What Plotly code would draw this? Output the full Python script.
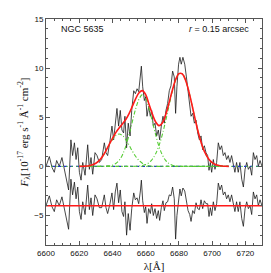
import plotly.graph_objects as go

# Observed spectrum (wavelength in Angstrom, flux in 1e-17 erg/s/A/cm2)
wave = [6600.0, 6602.0, 6603.6, 6605.0, 6606.4, 6608.0, 6609.6, 6611.0, 6612.6, 6613.6,
        6615.0, 6616.0, 6617.1, 6618.1, 6619.1, 6620.1, 6621.1, 6622.1, 6623.5, 6625.1,
        6626.1, 6627.1, 6628.1, 6629.5, 6630.7, 6632.1, 6633.5, 6635.1, 6636.1, 6637.1,
        6638.5, 6639.7, 6640.7, 6641.7, 6642.7, 6643.7, 6644.7, 6645.7, 6646.7, 6647.5,
        6648.5, 6649.5, 6650.6, 6651.6, 6652.8, 6653.8, 6654.8, 6655.8, 6656.8, 6657.4,
        6658.2, 6659.2, 6660.0, 6660.8, 6661.8, 6662.8, 6663.6, 6664.6, 6665.6, 6666.6,
        6667.6, 6668.4, 6669.4, 6670.4, 6671.2, 6672.2, 6673.2, 6674.2, 6675.2, 6676.2,
        6677.2, 6678.0, 6678.8, 6679.8, 6680.6, 6681.4, 6682.4, 6683.5, 6684.5, 6685.5,
        6686.5, 6687.3, 6688.3, 6689.3, 6690.3, 6691.3, 6692.3, 6693.3, 6694.3, 6695.3,
        6696.3, 6697.3, 6698.1, 6698.9, 6699.7, 6700.7, 6701.7, 6702.7, 6703.7, 6704.7,
        6705.7, 6706.7, 6707.7, 6708.7, 6709.7, 6710.7, 6711.7, 6712.7, 6713.7, 6714.7,
        6715.7, 6716.7, 6717.8, 6718.8, 6719.8, 6720.8, 6721.8, 6722.8, 6723.8, 6724.8,
        6725.8, 6726.8, 6727.8, 6728.8, 6730.0]
flux = [0.0, 1.0, -0.1, -0.6, 0.6, 0.0, 0.9, -0.3, -1.6, -2.4,
        2.7, 1.1, 2.4, 0.7, 1.9, -0.6, -1.4, 0.4, -0.9, 2.2,
        -0.3, 0.9, -0.8, 1.4, 1.1, 0.4, 0.7, 2.4, 1.4, 1.1,
        2.6, 4.1, 2.7, 4.7, 5.9, 4.1, 5.7, 3.7, 3.4, 5.1,
        1.9, 4.4, 3.1, 5.7, 7.7, 7.4, 7.9, 7.6, 9.1, 10.2,
        8.1, 6.7, 7.1, 5.1, 6.1, 5.1, 5.7, 4.1, 4.4, 3.1,
        3.7, 2.7, 4.1, 5.1, 4.4, 5.7, 6.4, 7.7, 8.2, 9.7,
        9.1, 5.4, 8.1, 10.4, 11.1, 10.4, 11.1, 10.4, 9.1, 7.4,
        6.4, 5.1, 5.4, 4.4, 4.7, 3.4, 2.7, 3.1, 1.7, 2.1,
        1.4, 1.1, -0.4, 0.4, -0.6, 0.7, -0.3, 0.4, 2.4, 1.7,
        2.1, 1.1, 1.4, 0.7, 1.1, 0.4, 1.1, 0.0, -0.6, 0.4,
        -0.6, 0.4, -1.3, -2.1, -0.3, 0.4, -0.3, 0.0, -0.9, 1.4,
        0.7, 1.1, 0.0, 0.6, 0.0]
# Residuals (shown offset by -4)
residual = [-4.0, -3.0, -4.1, -4.6, -3.4, -4.0, -3.1, -4.3, -5.6, -6.4,
            -1.3, -2.9, -1.6, -3.3, -2.1, -4.6, -5.4, -3.6, -4.9, -1.9,
            -4.4, -3.2, -5.0, -2.9, -3.3, -4.2, -4.2, -2.9, -4.2, -4.8,
            -3.8, -2.7, -4.4, -2.6, -1.7, -3.7, -2.4, -4.6, -5.1, -3.6,
            -7.0, -4.8, -6.5, -4.3, -2.7, -3.4, -3.2, -3.8, -2.5, -1.4,
            -3.5, -4.7, -4.1, -5.8, -4.3, -4.8, -3.8, -5.0, -4.3, -5.3,
            -4.5, -5.5, -4.2, -3.5, -4.5, -3.7, -3.6, -2.9, -3.0, -2.1,
            -3.3, -7.4, -5.0, -3.0, -2.3, -3.0, -2.2, -2.5, -3.4, -4.5,
            -4.9, -5.6, -4.5, -4.8, -3.7, -4.3, -4.4, -3.4, -4.3, -3.5,
            -3.8, -3.8, -5.1, -4.2, -5.0, -3.6, -4.5, -3.8, -1.7, -2.4,
            -1.9, -2.9, -2.6, -3.3, -2.9, -3.6, -2.9, -4.0, -4.6, -3.6,
            -4.6, -3.6, -5.3, -6.1, -4.3, -3.6, -4.3, -4.0, -4.9, -2.6,
            -3.3, -2.9, -4.0, -3.4, -4.0]
residual_level = -4.0

# Fitted Gaussian components on a model wavelength grid
model_wave = [6620, 6622, 6624, 6626, 6628, 6630, 6632, 6634, 6636, 6638,
              6640, 6642, 6644, 6646, 6648, 6650, 6652, 6654, 6656, 6658,
              6660, 6662, 6664, 6666, 6668, 6670, 6672, 6674, 6676, 6678,
              6680, 6682, 6684, 6686, 6688, 6690, 6692, 6694, 6696, 6698,
              6700, 6702, 6704, 6706, 6708, 6710]
comp_nii_a = [0.00, 0.01, 0.03, 0.07, 0.16, 0.32, 0.60, 1.01, 1.55, 2.16,
              2.73, 3.15, 3.30, 3.15, 2.73, 2.16, 1.55, 1.01, 0.60, 0.32,
              0.16, 0.07, 0.03, 0.01, 0, 0, 0, 0, 0, 0,
              0, 0, 0, 0, 0, 0, 0, 0, 0, 0,
              0, 0, 0, 0, 0, 0]
comp_halpha = [0, 0, 0, 0, 0, 0, 0, 0, 0.02, 0.05,
               0.12, 0.29, 0.61, 1.17, 2.04, 3.22, 4.58, 5.88, 6.85, 7.30,
               6.95, 5.88, 4.58, 3.22, 2.04, 1.17, 0.61, 0.29, 0.12, 0.05,
               0.02, 0, 0, 0, 0, 0, 0, 0, 0, 0,
               0, 0, 0, 0, 0, 0]
comp_nii_b = [0, 0, 0, 0, 0, 0, 0, 0, 0, 0,
              0, 0, 0, 0, 0, 0, 0, 0.01, 0.04, 0.09,
              0.19, 0.38, 0.73, 1.29, 2.11, 3.24, 4.62, 6.15, 7.61, 8.77,
              9.42, 9.42, 8.77, 7.61, 6.15, 4.62, 3.24, 2.11, 1.29, 0.73,
              0.38, 0.19, 0.09, 0.04, 0.01, 0.00]
continuum_wave = [6600, 6730]
continuum = [0.0, 0.0]

model_total = [a + b + c for a, b, c in zip(comp_nii_a, comp_halpha, comp_nii_b)]

x_range = [6600, 6730]
y_range = [-8, 15]

fig = go.Figure()
ln = dict(color="#1a1a1a", width=0.8)
fig.add_trace(go.Scatter(x=wave, y=flux, mode="lines", line=ln))
fig.add_trace(go.Scatter(x=wave, y=residual, mode="lines", line=ln))
fig.add_trace(go.Scatter(x=continuum_wave, y=continuum, mode="lines",
                         line=dict(color="#2233cc", width=1.3, dash="dot")))
fig.add_trace(go.Scatter(x=continuum_wave, y=continuum, mode="lines",
                         line=dict(color="#44bb33", width=0.8, dash="2px,3px")))
for comp in (comp_nii_a, comp_halpha, comp_nii_b):
    fig.add_trace(go.Scatter(x=model_wave, y=comp, mode="lines", line_shape="spline",
                             line=dict(color="#55cc33", width=1.1, dash="4px,2px,1px,2px")))
fig.add_trace(go.Scatter(x=model_wave, y=model_total, mode="lines", line_shape="spline",
                         line=dict(color="#ff1a1a", width=1.6)))
fig.add_trace(go.Scatter(x=x_range, y=[residual_level, residual_level], mode="lines",
                         line=dict(color="#ff1a1a", width=1.4)))

tickfont = dict(family="Liberation Sans", size=8, color="#111111")
axis_common = dict(showline=True, linecolor="#555555", linewidth=1, mirror="ticks",
                   ticks="inside", ticklen=4, tickcolor="#555555", showgrid=False,
                   zeroline=False, tickfont=tickfont)
fig.update_xaxes(range=x_range, dtick=20, tick0=6600,
                 minor=dict(dtick=5, ticks="inside", ticklen=2, tickcolor="#555555"),
                 title=dict(text="λ[Å]", font=dict(family="Liberation Serif", size=11, color="#111111"),
                            standoff=5),
                 **axis_common)
fig.update_yaxes(range=y_range, dtick=5, tick0=0,
                 minor=dict(dtick=1, ticks="inside", ticklen=2, tickcolor="#555555"),
                 title=dict(text="<i>F</i><sub>λ</sub>[10<sup>-17</sup> erg s<sup>-1</sup> Å<sup>-1</sup> cm<sup>-2</sup>]",
                            font=dict(family="Liberation Serif", size=11, color="#111111"), standoff=3),
                 **axis_common)

fig.add_annotation(text="NGC 5635", xref="paper", yref="paper", x=0.06, y=0.955,
                   xanchor="left", yanchor="middle", showarrow=False,
                   font=dict(family="Liberation Sans", size=9, color="#111111"))
fig.add_annotation(text="<i>r</i> = 0.15 arcsec", xref="paper", yref="paper", x=0.95, y=0.955,
                   xanchor="right", yanchor="middle", showarrow=False,
                   font=dict(family="Liberation Sans", size=9, color="#111111"))

fig.update_layout(width=271, height=273, margin=dict(l=38, r=17, t=7, b=36),
                  paper_bgcolor="white", plot_bgcolor="white", showlegend=False)
fig.write_html("out.html")
